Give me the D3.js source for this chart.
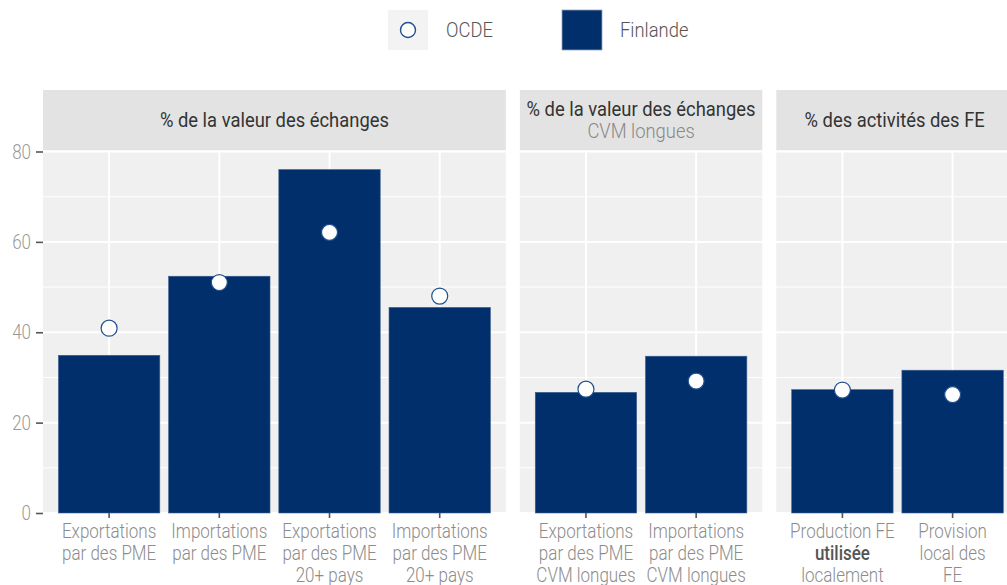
<!DOCTYPE html>
<html>
<head>
<meta charset="utf-8">
<script src="https://cdn.jsdelivr.net/npm/d3@7"></script>
<style>
  html, body { margin: 0; padding: 0; background: #ffffff; }
  svg { display: block; }
  text { font-family: Roboto, "Liberation Sans", sans-serif; }
</style>
</head>
<body>
<svg id="chart" width="1007" height="585"></svg>
<script>
// Panel headings (main line, optional second line)
const panelTitles = [
  ["% de la valeur des échanges"],
  ["% de la valeur des échanges", "CVM longues"],
  ["% des activités des FE"]
];

// Category labels per panel; words wrapped in ** are drawn bold
const panelCategories = [
  [
    ["Exportations", "par des PME"],
    ["Importations", "par des PME"],
    ["Exportations", "par des PME", "20+ pays"],
    ["Importations", "par des PME", "20+ pays"]
  ],
  [
    ["Exportations", "par des PME", "CVM longues"],
    ["Importations", "par des PME", "CVM longues"]
  ],
  [
    ["Production FE", "**utilisée**", "localement"],
    ["Provision", "local des", "FE"]
  ]
];

// Finland (bars) and OECD (dots) values per panel
const finlandeValues = [
  [34.9, 52.4, 76.0, 45.5],
  [26.7, 34.7],
  [27.3, 31.6]
];
const ocdeValues = [
  [40.9, 51.0, 62.1, 48.0],
  [27.4, 29.2],
  [27.2, 26.2]
];

const yTicks = [0, 20, 40, 60, 80];
const yMinor = [10, 30, 50, 70];
const legendLabels = ["OCDE", "Finlande"];

const navy = "#002F6C";
const svg = d3.select("#chart");

// Condensed text: a regular face squeezed horizontally
const SX = 0.85;
function label(parent, x, yPos, str, o = {}) {
  return parent.append("text")
    .attr("transform", `translate(${x},${yPos}) scale(${o.sx || SX},1)`)
    .attr("dy", "0.35em")
    .attr("text-anchor", o.anchor || "middle")
    .attr("fill", o.fill || "#8c8c8c")
    .style("font-size", (o.size || 20) + "px")
    .style("font-weight", o.weight || 300)
    .text(str);
}

const yTop = 151.5, yBottom = 513;
const y = d3.scaleLinear().domain([0, 80]).range([yBottom, yTop]);

const step = 110.2;
const panelGap = 14;
let x0 = 43;

// y axis
const yAxis = d3.axisLeft(y).tickValues(yTicks).tickSize(7).tickFormat("");
const yg = svg.append("g").attr("transform", `translate(${x0},0)`).call(yAxis);
yg.select(".domain").remove();
yg.selectAll(".tick line").attr("stroke", "#555").attr("stroke-width", 1.6);
yTicks.forEach(v => label(svg, 31, y(v), String(v), { anchor: "end", fill: "#9a9a9a" }));

panelCategories.forEach((cats, pi) => {
  const w = step * (cats.length + 0.2);
  const x1 = x0 + w;
  const ids = cats.map((c, i) => i);
  const x = d3.scaleBand().domain(ids).range([x0, x1]).paddingInner(0.08).paddingOuter(0.14);

  const g = svg.append("g");

  // strip
  g.append("rect").attr("x", x0).attr("y", 90).attr("width", w).attr("height", 60.5).attr("fill", "#e3e3e3");
  const t = panelTitles[pi];
  const tx = Math.min(x0 + w / 2, (x0 + 1007) / 2 + 3);
  if (t.length === 1) {
    label(g, tx, 120, t[0], { fill: "#333", size: 20, weight: 400, sx: 0.92 });
  } else {
    label(g, tx, 109, t[0], { fill: "#333", size: 20, weight: 400, sx: 0.92 });
    label(g, tx, 131, t[1], { fill: "#888", size: 20, weight: 300, sx: 0.92 });
  }

  // panel background
  g.append("rect").attr("x", x0).attr("y", yTop).attr("width", w).attr("height", yBottom - yTop).attr("fill", "#f0f0f0");

  // grid
  g.selectAll(".minor").data(yMinor).join("line")
    .attr("x1", x0).attr("x2", x1).attr("y1", d => y(d)).attr("y2", d => y(d))
    .attr("stroke", "#fff").attr("stroke-width", 1);
  g.selectAll(".major").data(yTicks).join("line")
    .attr("x1", x0).attr("x2", x1).attr("y1", d => y(d)).attr("y2", d => y(d))
    .attr("stroke", "#fff").attr("stroke-width", 2);
  g.selectAll(".vgrid").data(ids).join("line")
    .attr("x1", d => x(d) + x.bandwidth() / 2).attr("x2", d => x(d) + x.bandwidth() / 2)
    .attr("y1", yTop).attr("y2", yBottom)
    .attr("stroke", "#fff").attr("stroke-width", 2);

  // bars
  g.selectAll(".bar").data(finlandeValues[pi]).join("rect")
    .attr("x", (d, i) => x(i)).attr("width", x.bandwidth())
    .attr("y", d => y(d)).attr("height", d => yBottom - y(d))
    .attr("fill", navy).attr("stroke", "#3d5f8f").attr("stroke-width", 0.6);

  // OECD dots
  g.selectAll(".dot").data(ocdeValues[pi]).join("circle")
    .attr("cx", (d, i) => x(i) + x.bandwidth() / 2).attr("cy", d => y(d)).attr("r", 8)
    .attr("fill", "#fff").attr("stroke", "#1f4f8f").attr("stroke-width", 1.2);

  // x axis
  const xa = d3.axisBottom(x).tickSize(5).tickFormat("");
  const xg = g.append("g").attr("transform", `translate(0,${yBottom})`).call(xa);
  xg.select(".domain").remove();
  xg.selectAll(".tick line").attr("stroke", "#555").attr("stroke-width", 1.6);

  cats.forEach((lines, i) => {
    const cx = x(i) + x.bandwidth() / 2;
    lines.forEach((ln, li) => {
      const bold = ln.startsWith("**");
      label(g, cx, 531 + li * 22, ln.replace(/\*\*/g, ""), {
        fill: bold ? "#555" : "#8c8c8c",
        weight: bold ? 500 : 300
      });
    });
  });

  x0 = x1 + panelGap;
});

// legend
const lg = svg.append("g");
lg.append("rect").attr("x", 388).attr("y", 10).attr("width", 40).attr("height", 40).attr("fill", "#f3f3f3");
lg.append("circle").attr("cx", 408).attr("cy", 30).attr("r", 7.5)
  .attr("fill", "#fff").attr("stroke", "#1f4f8f").attr("stroke-width", 1.4);
label(lg, 446, 30, legendLabels[0], { anchor: "start", fill: "#555", sx: 0.92 });
lg.append("rect").attr("x", 562).attr("y", 10).attr("width", 40).attr("height", 40)
  .attr("fill", navy).attr("stroke", "#8fa3c0").attr("stroke-width", 0.8);
label(lg, 620, 30, legendLabels[1], { anchor: "start", fill: "#555", sx: 0.92 });
</script>
</body>
</html>
